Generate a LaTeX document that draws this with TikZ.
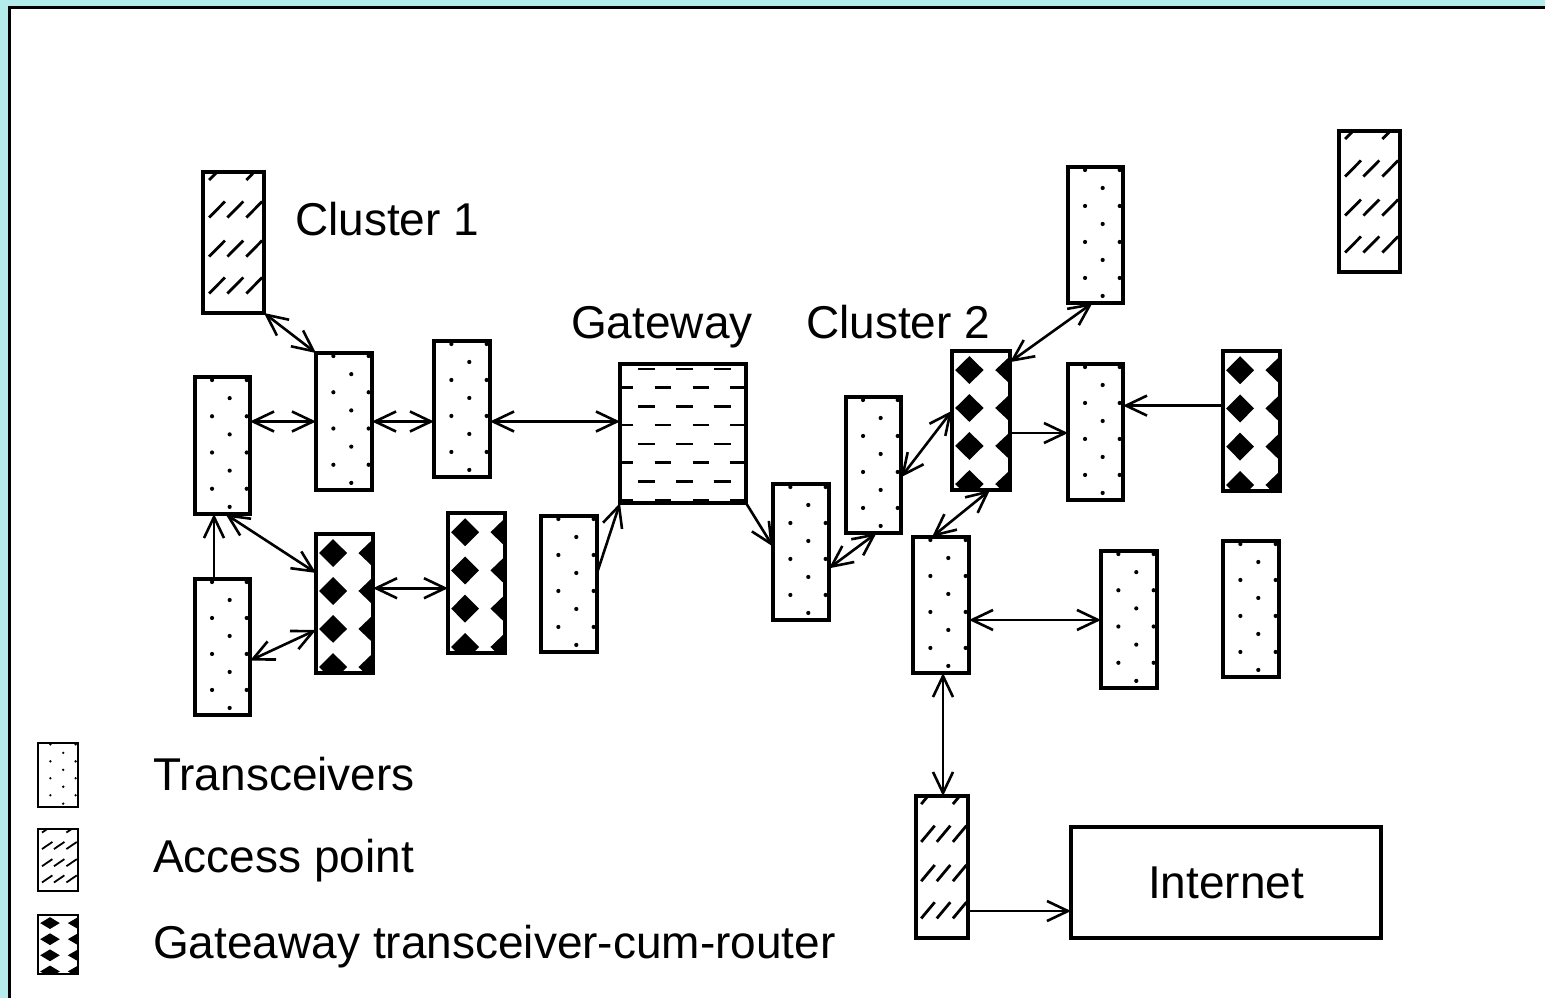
\documentclass[tikz,border=0pt]{standalone}
\usepackage{fontspec}
\setmainfont{Liberation Sans}
\usetikzlibrary{arrows.meta,calc}
\definecolor{frameteal}{RGB}{180,236,236}
\def\bw{3.2pt}
\tikzset{
  box/.style={draw, line width=\bw, rectangle, inner sep=0pt, outer sep=0pt, anchor=north west},
  link/.style={line width=2.6pt},
  lbl/.style={font=\fontsize{46pt}{50pt}\selectfont, inner sep=0pt, anchor=base west},
}
% transceiver: name x y w h dotradius
\newcommand\trcv[6]{%
  \node[box, minimum width=#4pt, minimum height=#5pt] (#1) at (#2,#3) {};
  \begin{scope}[shift={(#1.north west)}, x={(#4pt,0pt)}, y={(0pt,-#5pt)}]
    \foreach \kk in {0,2,4,6}{%
      \fill (0.31,{0.022+0.1323*\kk}) circle[radius=#6pt];
      \fill (0.94,{0.022+0.1323*\kk}) circle[radius=#6pt];}
    \foreach \kk in {1,3,5,7}{%
      \fill (0.63,{0.022+0.1323*\kk}) circle[radius=#6pt];}
  \end{scope}}
% access point: name x y w h slashwidth
\newcommand\apnt[6]{%
  \node[box, minimum width=#4pt, minimum height=#5pt] (#1) at (#2,#3) {};
  \begin{scope}[shift={(#1.north west)}, x={(#4pt,0pt)}, y={(0pt,-#5pt)}]
    \clip (0,0) rectangle (1,1);
    \foreach \rr in {0.266,0.543,0.805}{%
      \foreach \cc in {0.23,0.53,0.84}{%
        \draw[line width=#6pt] (\cc-0.13,\rr+0.057) -- (\cc+0.13,\rr-0.057);}}
    \foreach \cc in {0.23,0.84}{%
      \draw[line width=#6pt] (\cc-0.13,0.057) -- (\cc+0.13,-0.057);}
  \end{scope}}
% gateway transceiver-cum-router: name x y w h
\newcommand\gwr[5]{%
  \node[box, minimum width=#4pt, minimum height=#5pt] (#1) at (#2,#3) {};
  \begin{scope}[shift={(#1.north west)}, x={(#4pt,0pt)}, y={(0pt,-#5pt)}]
    \clip (0,0) rectangle (1,1);
    \foreach \rr in {0.137,0.41,0.683,0.957}{%
      \fill (0.055,\rr) -- (0.3,\rr-0.1) -- (0.545,\rr) -- (0.3,\rr+0.1) -- cycle;
      \fill (0.745,\rr) -- (1,\rr-0.1) -- (1.255,\rr) -- (1,\rr+0.1) -- cycle;}
  \end{scope}}
\begin{document}
\begin{tikzpicture}[x=1pt, y=-1pt, >={Straight Barb[length=21pt,width=20pt]}]
\useasboundingbox (0,0) rectangle (1545,998);
\fill[frameteal] (0,0) rectangle (1545,998);
\fill[white] (9.5,7.5) rectangle (1545,998);
\draw[line width=3pt] (9.5,998) -- (9.5,7.5) -- (1545,7.5);

% gateway
\node[box, minimum width=126pt, minimum height=139pt] (gw) at (620,364) {};
\begin{scope}[shift={(gw.north west)}, x={(126pt,0pt)}, y={(0pt,-139pt)}]
  \clip (0,0) rectangle (1,1);
  \foreach \kk in {0,2,4,6}{%
    \foreach \cc in {0.21,0.512,0.81}{%
      \draw[line width=2.6pt] (\cc-0.067,{(5+18.7*\kk)/139}) -- (\cc+0.067,{(5+18.7*\kk)/139});}}
  \foreach \kk in {1,3,5,7}{%
    \foreach \cc in {0.04,0.341,0.643,0.94}{%
      \draw[line width=2.6pt] (\cc-0.067,{(5+18.7*\kk)/139}) -- (\cc+0.067,{(5+18.7*\kk)/139});}}
\end{scope}

% access points
\apnt{ap1}{203}{172}{61}{141}{2.8}
\apnt{ap2}{1339}{131}{61}{141}{2.8}
\apnt{ap3}{916}{796}{52}{142}{2.8}

% transceivers
\trcv{t1}{195}{377}{55}{137}{2.1}
\trcv{t2}{316}{353}{56}{137}{2.1}
\trcv{t3}{434}{341}{56}{136}{2.1}
\trcv{t4}{195}{579}{55}{136}{2.1}
\trcv{t5}{541}{516}{56}{136}{2.1}
\trcv{t6}{773}{484}{56}{136}{2.1}
\trcv{t7}{846}{397}{55}{136}{2.1}
\trcv{t8}{1068}{167}{55}{136}{2.1}
\trcv{t9}{1068}{364}{55}{136}{2.1}
\trcv{t10}{913}{537}{56}{136}{2.1}
\trcv{t11}{1101}{551}{56}{137}{2.1}
\trcv{t12}{1223}{541}{56}{136}{2.1}

% gateway transceiver-cum-routers
\gwr{g1}{316}{534}{57}{139}
\gwr{g2}{448}{513}{57}{140}
\gwr{g3}{952}{351}{58}{139}
\gwr{g4}{1223}{351}{57}{140}

% internet
\node[box, font=\fontsize{46pt}{50pt}\selectfont, minimum width=310pt, minimum height=111pt] (inet) at (1071,827) {Internet};

% labels
\node[lbl] (c1) at (295,235) {Cluster 1};
\node[lbl] (gwl) at (571,338) {Gateway};
\node[lbl] (c2) at (806,338) {Cluster 2};

% connectors
\draw[link,<->] (ap1.south east) -- (t2.north west);
\draw[link,<->] (t1.east |- t2.west) -- (t2.west);
\draw[link,<->] (t2.east) -- (t3.west |- t2.east);
\draw[link,<->] (t3.east |- t2.east) -- (gw.west |- t2.east);
\draw[link,->] ([xshift=-8.5pt]t4.north) -- ([xshift=-8.5pt]t1.south);
\draw[link,<->] ([xshift=3pt]t1.south) -- ($(g1.north west)!0.28!(g1.south west)$);
\draw[link,<->] ($(t4.north east)!0.6!(t4.south east)$) -- ($(g1.north west)!0.69!(g1.south west)$);
\coordinate (g1r) at ($(g1.north east)!0.39!(g1.south east)$);
\draw[link,<->] (g1r) -- (g1r -| g2.west);
\draw[link,->] ($(t5.north east)!0.42!(t5.south east)$) -- (gw.south west);
\draw[link,->] (gw.south east) -- ($(t6.north west)!0.46!(t6.south west)$);
\draw[link,<->] ($(t6.north east)!0.62!(t6.south east)$) -- ([xshift=3pt]t7.south);
\draw[link,<->] ($(t7.north east)!0.59!(t7.south east)$) -- ($(g3.north west)!0.43!(g3.south west)$);
\draw[link,<->] ([xshift=9pt]g3.south) -- ([xshift=-9pt]t10.north);
\draw[link,<->] ([xshift=-3pt]t8.south) -- ($(g3.north east)!0.08!(g3.south east)$);
\coordinate (g3r) at ($(g3.north east)!0.59!(g3.south east)$);
\draw[link,->] (g3r) -- (g3r -| t9.west);
\coordinate (g4l) at ($(g4.north west)!0.39!(g4.south west)$);
\draw[link,->] (g4l) -- (g4l -| t9.east);
\coordinate (t10r) at ($(t10.north east)!0.61!(t10.south east)$);
\draw[link,<->] (t10r) -- (t10r -| t11.west);
\coordinate (t10b) at ([xshift=2pt]t10.south);
\draw[link,<->] (t10b) -- (t10b |- ap3.north);
\coordinate (ap3r) at ($(ap3.north east)!0.81!(ap3.south east)$);
\draw[link,->] (ap3r) -- (ap3r -| inet.west);

% legend
\def\bw{2pt}
\trcv{lt1}{38}{743}{40}{64}{1.3}
\apnt{la1}{38}{829}{40}{62}{1.8}
\gwr{lg1}{38}{915}{40}{59}
\node[lbl] (lt) at (153,790) {Transceivers};
\node[lbl] (la) at (153,872) {Access point};
\node[lbl] (lg) at (153,958) {Gateaway transceiver-cum-router};
\end{tikzpicture}
\end{document}
